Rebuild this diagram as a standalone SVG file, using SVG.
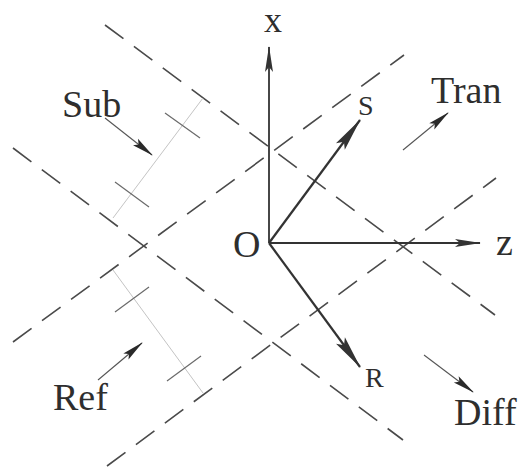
<svg xmlns="http://www.w3.org/2000/svg" width="523" height="470" viewBox="0 0 523 470">
<style>
.bg{fill:#ffffff}
.dash{stroke:#4a4a4a;stroke-width:1.6;stroke-dasharray:23 13;fill:none}
.axis{stroke:#333;stroke-width:1.8;fill:none}
.vec{stroke:#333;stroke-width:2.2;fill:none}
.small{stroke:#555;stroke-width:1.1;fill:none}
.guide{stroke:#c4c4c4;stroke-width:1;fill:none}
.tick{stroke:#6a6a6a;stroke-width:1.2;fill:none}
.lbl{font-family:"Liberation Serif","Times New Roman",serif;fill:#2e2e2e;font-size:38px}
.sm{font-family:"Liberation Serif","Times New Roman",serif;fill:#2e2e2e;font-size:28px}
</style>
<defs>
<marker id="ah" markerUnits="userSpaceOnUse" markerWidth="30" markerHeight="12" refX="0" refY="0" orient="auto" overflow="visible">
<path d="M1,0 L-25,-4 L-20,0 L-25,4 Z" fill="#333"/>
</marker>
<marker id="vh" markerUnits="userSpaceOnUse" markerWidth="36" markerHeight="14" refX="0" refY="0" orient="auto" overflow="visible">
<path d="M1,0 L-33,-5.5 L-27,0 L-33,5.5 Z" fill="#333"/>
</marker>
<marker id="sh" markerUnits="userSpaceOnUse" markerWidth="24" markerHeight="10" refX="0" refY="0" orient="auto" overflow="visible">
<path d="M1,0 L-21,-4 L-17,0 L-21,4 Z" fill="#2a2a2a"/>
</marker>
</defs>
<rect class="bg" x="0" y="0" width="523" height="470"/>

<g id="interfaces">
<line id="lineA" class="dash" x1="105" y1="25" x2="495" y2="315"/>
<line id="lineC" class="dash" x1="13" y1="148" x2="403" y2="440"/>
<line id="lineB" class="dash" x1="13" y1="342" x2="404" y2="55"/>
<line id="lineD" class="dash" x1="107" y1="466" x2="496" y2="178"/>
</g>

<g id="thickness-sub">
<line class="guide" x1="113" y1="218" x2="203" y2="98"/>
<line class="tick" x1="165" y1="113" x2="200" y2="138"/>
<line class="tick" x1="115" y1="182" x2="149" y2="207"/>
</g>
<g id="thickness-ref">
<line class="guide" x1="113" y1="270" x2="203" y2="393"/>
<line class="tick" x1="115" y1="312" x2="149" y2="287"/>
<line class="tick" x1="167" y1="381" x2="201" y2="356"/>
</g>

<g id="connectors">
<line id="x-axis" class="axis" x1="269" y1="243" x2="269" y2="47" marker-end="url(#ah)"/>
<line id="z-axis" class="axis" x1="269" y1="243" x2="480" y2="243" marker-end="url(#ah)"/>
<line id="s-vec" class="vec" x1="269" y1="243" x2="360" y2="120" marker-end="url(#vh)"/>
<line id="r-vec" class="vec" x1="269" y1="243" x2="360" y2="367" marker-end="url(#vh)"/>
<line id="sub-arrow" class="small" x1="105" y1="118" x2="152" y2="155" marker-end="url(#sh)"/>
<line id="tran-arrow" class="small" x1="403" y1="150" x2="448" y2="113" marker-end="url(#sh)"/>
<line id="ref-arrow" class="small" x1="98" y1="380" x2="142" y2="343" marker-end="url(#sh)"/>
<line id="diff-arrow" class="small" x1="424" y1="355" x2="473" y2="392" marker-end="url(#sh)"/>
</g>

<g id="label-x"><text class="lbl" x="264" y="32" style="font-size:36px">x</text></g>
<g id="label-z"><text class="lbl" x="496" y="255">z</text></g>
<g id="label-O"><text class="lbl" x="233" y="257">O</text></g>
<g id="label-S"><text class="sm" x="358" y="115">S</text></g>
<g id="label-R"><text class="sm" x="365" y="387">R</text></g>
<g id="label-Sub"><text class="lbl" x="62" y="117">Sub</text></g>
<g id="label-Tran"><text class="lbl" x="431" y="103">Tran</text></g>
<g id="label-Ref"><text class="lbl" x="53" y="410">Ref</text></g>
<g id="label-Diff"><text class="lbl" x="454" y="425">Diff</text></g>
</svg>
